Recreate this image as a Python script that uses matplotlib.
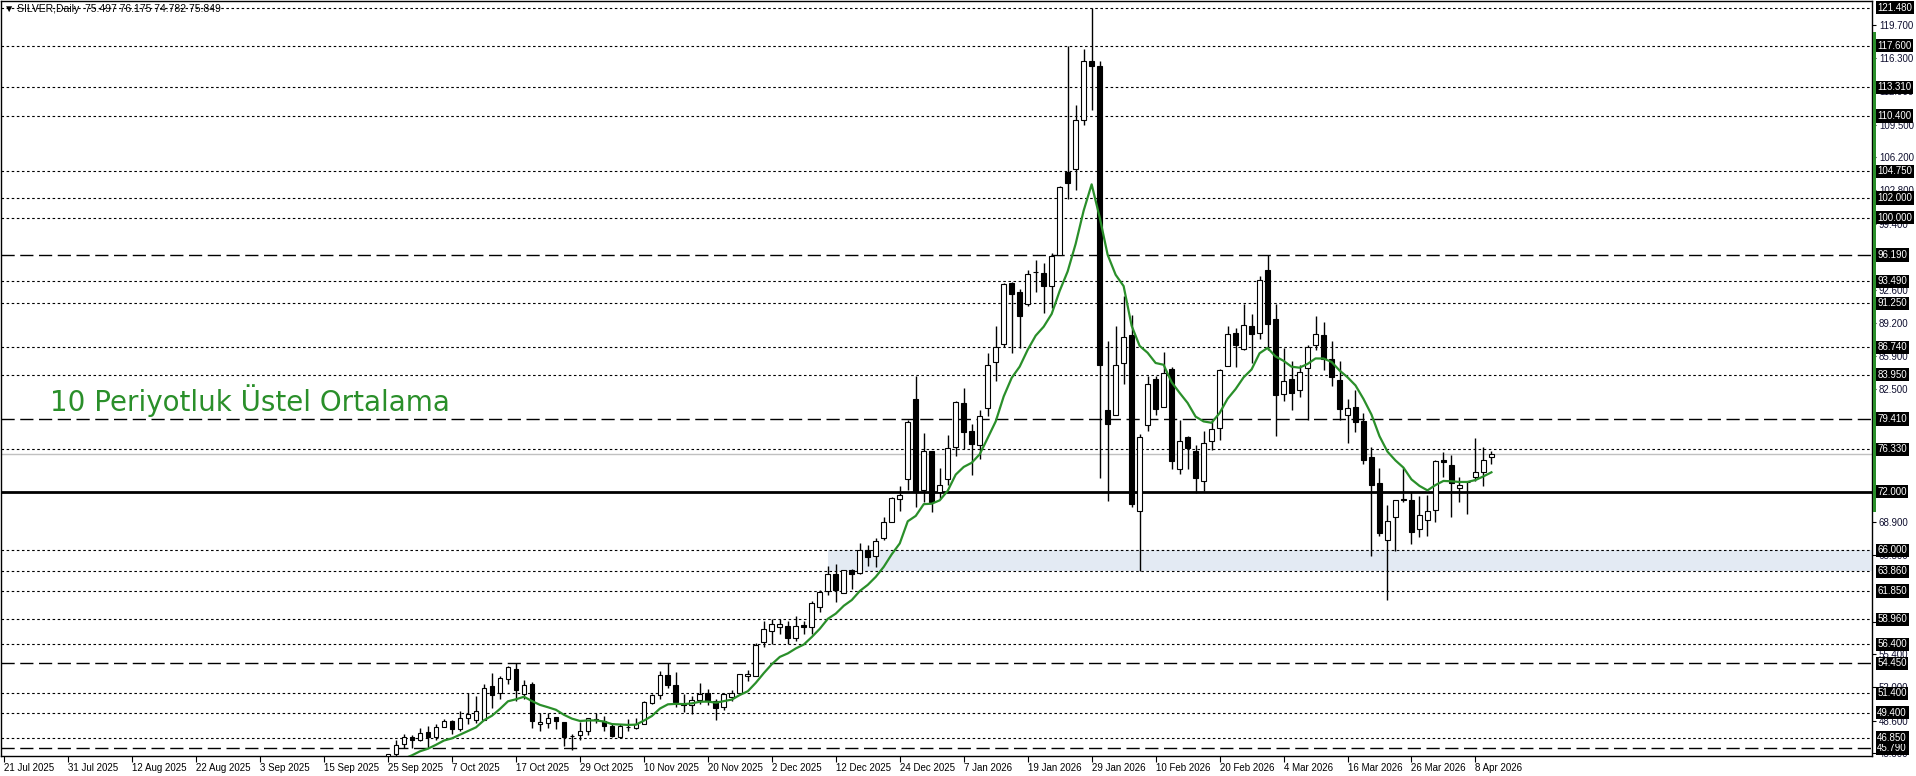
import matplotlib
matplotlib.use("Agg")
import matplotlib.pyplot as plt
import matplotlib.transforms as mtransforms
from matplotlib.patches import Rectangle
import pandas as pd

# bar index 0 = 21 Jul 2025, one bar per trading day
first_bar = 48
opens = [44.8, 45.15, 46.18, 46.93, 46.59, 47.4, 46.93, 47.92, 48.53, 47.78,
         48.84, 48.7, 48.7, 52.11, 51.4, 52.83, 53.85, 51.29, 52.32, 48.22,
         48.33, 48.97, 48.46, 47.06, 47.1, 47.51, 48.77, 48.53, 48.05, 46.92,
         47.95, 47.88, 48.29, 50.44, 51.19, 53.24, 52.21, 50.34, 50.17, 50.68,
         51.39, 50.61, 50.03, 51.05, 51.39, 53.13, 53.13, 56.68, 57.71, 58.15,
         58.25, 57.09, 58.39, 58.18, 60.23, 61.87, 63.57, 61.67, 64.03, 63.64,
         66.07, 65.4, 67.29, 68.94, 71.29, 73.34, 81.5, 72.16, 76.2, 71.96,
         73.26, 76.6, 81.03, 78.2, 76.79, 80.52, 85.24, 87.08, 93.37, 92.38,
         91.2, 94.4, 94.39, 92.97, 96.19, 104.68, 104.95, 110.0, 116.0, 115.5,
         80.36, 79.84, 85.2, 88.03, 70.05, 78.86, 83.53, 80.7, 84.55, 74.32,
         77.63, 76.19, 73.06, 77.22, 78.51, 84.89, 88.24, 86.6, 88.89, 88.2,
         94.62, 89.67, 82.0, 83.53, 82.41, 84.66, 86.95, 88.04, 85.58, 83.43,
         79.85, 80.7, 79.27, 75.52, 72.89, 67.06, 69.44, 71.25, 71.15, 68.18,
         69.1, 70.13, 75.24, 74.77, 72.38, 73.0, 73.47, 74.05, 75.497]
highs = [45.2, 46.59, 47.2, 47.13, 47.85, 48.05, 48.3, 48.77, 48.63, 49.59,
         51.4, 51.09, 52.32, 53.48, 53.17, 54.16, 54.5, 52.76, 52.56, 49.38,
         49.38, 49.0, 48.5, 47.2, 48.46, 48.9, 49.35, 49.04, 48.39, 48.22,
         48.73, 48.83, 50.57, 51.29, 53.68, 54.5, 53.61, 51.36, 51.12, 52.42,
         51.8, 50.78, 51.39, 51.7, 53.41, 53.81, 56.54, 58.8, 58.97, 58.97,
         58.8, 59.31, 58.8, 60.84, 61.97, 64.36, 64.6, 64.0, 64.1, 66.77,
         66.5, 67.29, 69.4, 71.49, 72.55, 79.3, 83.78, 77.97, 76.2, 74.44,
         77.77, 81.31, 82.6, 78.95, 80.33, 86.14, 88.97, 93.37, 93.4, 92.7,
         94.62, 95.72, 95.33, 96.43, 103.2, 117.6, 111.5, 117.2, 121.48, 116.0,
         87.38, 88.89, 91.96, 90.08, 77.9, 83.77, 83.87, 86.26, 84.79, 79.33,
         77.73, 76.77, 78.24, 79.33, 84.55, 88.89, 88.72, 91.14, 90.18, 94.0,
         96.22, 91.21, 86.7, 85.4, 84.9, 86.95, 89.91, 89.33, 87.39, 85.31,
         81.49, 82.41, 80.05, 76.54, 74.42, 70.67, 71.15, 74.42, 71.94, 71.6,
         71.7, 75.24, 76.03, 75.79, 73.47, 73.13, 77.5, 76.54, 76.175]
lows = [44.6, 45.02, 45.77, 45.83, 46.55, 45.83, 46.65, 47.9, 47.27, 47.54,
        48.22, 48.39, 48.7, 49.86, 50.78, 52.35, 50.61, 50.82, 47.81, 47.5,
        47.81, 47.78, 46.04, 45.56, 46.59, 47.16, 48.33, 47.54, 46.92, 46.92,
        47.54, 47.78, 48.22, 50.27, 50.85, 51.97, 50.03, 49.52, 49.31, 50.27,
        50.17, 48.63, 49.65, 50.61, 51.39, 52.65, 53.13, 56.17, 56.41, 57.5,
        56.41, 56.75, 57.43, 57.43, 59.65, 61.46, 60.77, 61.6, 62.0, 63.6,
        64.42, 64.3, 67.05, 68.86, 70.04, 72.16, 70.43, 70.98, 69.92, 71.29,
        72.67, 75.69, 76.32, 73.73, 75.3, 79.74, 83.27, 86.81, 86.14, 86.69,
        90.93, 92.42, 90.22, 90.73, 96.19, 101.93, 102.87, 109.5, 111.0, 73.4,
        71.08, 79.84, 83.02, 70.46, 63.84, 78.24, 79.88, 80.7, 74.32, 73.81,
        74.32, 71.83, 72.03, 76.26, 77.29, 84.89, 84.72, 86.43, 85.13, 87.62,
        86.43, 77.73, 81.31, 80.36, 81.66, 79.34, 86.43, 84.39, 82.75, 79.34,
        76.95, 78.08, 74.83, 65.45, 67.5, 60.91, 65.96, 70.91, 66.65, 67.33,
        67.5, 68.86, 73.54, 69.44, 70.91, 69.72, 73.13, 72.62, 74.782]
closes = [45.15, 46.11, 46.93, 46.59, 47.3, 46.93, 47.92, 48.53, 47.78, 48.84,
          49.28, 49.55, 51.9, 51.19, 52.93, 54.06, 51.7, 52.21, 48.6, 48.46,
          48.87, 48.53, 46.89, 47.03, 47.5, 48.84, 48.63, 48.0, 47.06, 48.0,
          47.98, 48.29, 50.47, 51.19, 53.24, 52.21, 50.54, 50.17, 50.68, 51.29,
          50.61, 49.93, 51.29, 51.46, 53.34, 53.34, 56.34, 57.91, 58.46, 58.46,
          57.09, 58.25, 58.18, 60.6, 61.76, 63.57, 61.94, 63.95, 63.56, 65.99,
          65.32, 66.97, 68.94, 71.37, 71.69, 79.15, 72.0, 76.12, 70.98, 72.67,
          76.48, 81.19, 78.05, 76.87, 79.74, 84.96, 86.81, 93.21, 92.19, 89.95,
          94.23, 94.46, 92.97, 96.04, 103.1, 103.5, 110.0, 116.0, 115.5, 84.96,
          78.92, 84.96, 87.79, 70.74, 77.63, 83.02, 80.46, 84.14, 75.17, 77.22,
          76.43, 73.36, 76.98, 78.41, 84.48, 88.07, 86.94, 89.06, 88.14, 93.59,
          89.16, 81.89, 83.36, 82.06, 84.22, 86.78, 88.14, 85.58, 83.7, 80.46,
          80.57, 79.1, 75.24, 72.68, 67.74, 68.97, 71.15, 71.15, 67.84, 69.61,
          70.06, 75.11, 75.0, 72.89, 72.68, 73.02, 74.05, 75.24, 75.849]
ema_seed = 43.5  # EMA value just before the first visible bar

date_labels = ["21 Jul 2025", "31 Jul 2025", "12 Aug 2025", "22 Aug 2025",
               "3 Sep 2025", "15 Sep 2025", "25 Sep 2025", "7 Oct 2025",
               "17 Oct 2025", "29 Oct 2025", "10 Nov 2025", "20 Nov 2025",
               "2 Dec 2025", "12 Dec 2025", "24 Dec 2025", "7 Jan 2026",
               "19 Jan 2026", "29 Jan 2026", "10 Feb 2026", "20 Feb 2026",
               "4 Mar 2026", "16 Mar 2026", "26 Mar 2026", "8 Apr 2026"]
date_step = 8

# grid price labels that are still (partly) visible next to the level labels
price_ticks = [45.3, 48.6, 52.0, 55.4, 58.7, 65.5, 68.9, 79.1, 82.5, 85.9,
               89.2, 92.6, 99.4, 102.8, 106.2, 109.5, 112.9, 116.3, 119.7]

dotted_levels = [121.48, 117.6, 113.31, 110.4, 104.75, 102.0, 100.0, 93.49,
                 91.25, 86.74, 83.95, 76.33, 66.0, 63.86, 61.85, 58.96, 56.4,
                 51.4, 49.4, 46.85]
dashed_levels = [96.19, 79.41, 54.45, 45.79]
solid_levels = [72.0]
bid_price = 75.849
zone = (63.86, 66.0)
zone_start = 103
range_bar = (69.9, 119.0)

ema_label = "10 Periyotluk Üstel Ortalama"
title = "\u25bc SILVER,Daily  75.497 76.175 74.782 75.849"

FONT = ["Liberation Sans", "DejaVu Sans"]
GREEN = "#2a8f2a"

fig = plt.figure(figsize=(19.16, 7.76), dpi=100)
ax = fig.add_axes([1 / 1916, 20 / 776, 1871 / 1916, 755 / 776])
ax.set_xlim(-0.41, 233.6)
ax.set_ylim(44.98, 122.15)

# level lines
for lv in dotted_levels:
    ax.axhline(lv, color="black", lw=0.8, dashes=(2.3, 2.3), zorder=1)
for lv in dashed_levels:
    ax.axhline(lv, color="black", lw=1.0, dashes=(9.5, 4.0), zorder=1)
for lv in solid_levels:
    ax.axhline(lv, color="black", lw=2.0, zorder=1)
ax.axhline(bid_price, color="#c0c0c0", lw=1.0, zorder=1)
ax.add_patch(Rectangle((zone_start, zone[0]), 300, zone[1] - zone[0],
                       facecolor="#e3eaf3", edgecolor="none", zorder=0))

# candles
xs = list(range(first_bar, first_bar + len(closes)))
ax.vlines(xs, lows, highs, color="black", lw=1.0, zorder=3)
bottoms = [min(o, c) for o, c in zip(opens, closes)]
heights = [abs(c - o) for o, c in zip(opens, closes)]
faces = ["white" if c >= o else "black" for o, c in zip(opens, closes)]
ax.bar(xs, heights, bottom=bottoms, width=0.6, color=faces,
       edgecolor="black", linewidth=0.8, zorder=4)

# EMA(10) of closes
ema = pd.Series([ema_seed] + closes).ewm(span=10, adjust=False).mean()[1:]
ax.plot(xs, ema.values, color=GREEN, lw=1.6, zorder=5)
ax.text(5.7, 81.3, ema_label, color=GREEN, fontsize=20,
        family=["DejaVu Sans"], va="center", ha="left", zorder=6)

# axes look
for sp in ax.spines.values():
    sp.set_color("black")
    sp.set_linewidth(1.0)
ax.yaxis.tick_right()
ax.set_yticks(price_ticks)
ax.set_yticklabels([f"{v:.3f}" for v in price_ticks], family=FONT,
                   fontsize=7, color="#101030")
ax.tick_params(axis="y", direction="out", length=3, pad=2)

tick_pos = [i * date_step for i in range(len(date_labels))]
ax.set_xticks(tick_pos)
ax.set_xticklabels(date_labels, family=FONT, fontsize=7)
for lbl in ax.get_xticklabels():
    lbl.set_ha("left")
ax.tick_params(axis="x", direction="out", length=4, pad=1)

# highlighted price labels on the right axis
trans = mtransforms.blended_transform_factory(ax.transAxes, ax.transData)
for lv in sorted(dotted_levels + dashed_levels + solid_levels):
    ax.text(1.0028, lv, f"{lv:.3f}", transform=trans, color="white",
            fontsize=7, family=FONT, va="center", ha="left", clip_on=False,
            zorder=10,
            bbox=dict(facecolor="black", edgecolor="none", pad=1.2))
ax.add_patch(Rectangle((1.0004, range_bar[0]), 0.0019,
                       range_bar[1] - range_bar[0], transform=trans,
                       facecolor=GREEN, edgecolor="none", clip_on=False,
                       zorder=11))

fig.text(4 / 1916, 1 - 9 / 776, title, family=FONT, fontsize=7.5,
         va="center", ha="left")

fig.savefig("out.png", dpi=100)
